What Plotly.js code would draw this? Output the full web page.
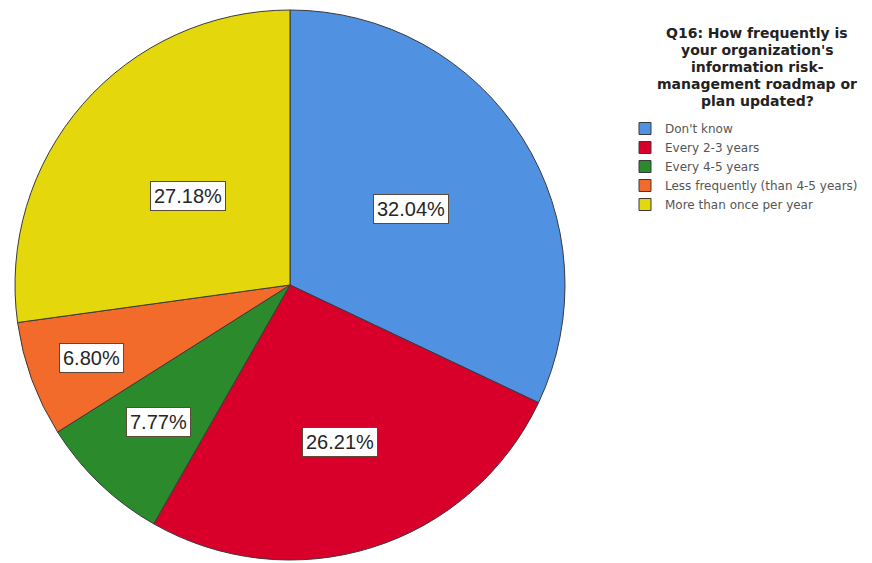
<!DOCTYPE html>
<html>
<head>
<meta charset="utf-8">
<script src="https://cdn.plot.ly/plotly-3.0.1.min.js"></script>
<style>html,body{margin:0;padding:0;background:#fff;}#chart{width:872px;height:563px;}</style>
</head>
<body>
<div id="chart"></div>
<script>
var categories = ["Don't know", "Every 2-3 years", "Every 4-5 years", "Less frequently (than 4-5 years)", "More than once per year"];
var percentages = [32.04, 26.21, 7.77, 6.80, 27.18];
var sliceColors = ["#5191e2", "#d8002b", "#2b8a2c", "#f26b2b", "#e4d70c"];
var legendTitleLines = ["Q16: How frequently is", "your organization's", "information risk-", "management roadmap or", "plan updated?"];

var W = 872, H = 563;
var cx = 290, cy = 285, R = 275;
var labelRadius = [0.52, 0.60, 0.69, 0.77, 0.49];

var total = percentages.reduce(function(a,b){return a+b;},0);
var annotations = [];
var cum = 0;
for (var i = 0; i < percentages.length; i++) {
  var mid = (cum + percentages[i]/2) / total * 2 * Math.PI;
  cum += percentages[i];
  var px = cx + R*labelRadius[i]*Math.sin(mid);
  var py = cy - R*labelRadius[i]*Math.cos(mid);
  annotations.push({
    xref: 'paper', yref: 'paper', x: px/W, y: 1 - py/H,
    xanchor: 'center', yanchor: 'middle', showarrow: false,
    text: percentages[i].toFixed(2) + '%',
    font: {family: 'Arial, Liberation Sans, sans-serif', size: 20, color: '#262626'},
    bgcolor: '#ffffff', bordercolor: '#5a4a3a', borderwidth: 1, borderpad: 3
  });
}
// legend title, one centred line each
var titleX = 757, titleY0 = 33, titleStep = 17;
legendTitleLines.forEach(function(line, k) {
  annotations.push({
    xref: 'paper', yref: 'paper', x: titleX/W, y: 1 - (titleY0 + k*titleStep)/H,
    xanchor: 'center', yanchor: 'middle', showarrow: false,
    text: '<b>' + line + '</b>',
    font: {family: 'DejaVu Sans, sans-serif', size: 14, color: '#222'}
  });
});

var data = [{
  type: 'pie',
  labels: categories,
  values: percentages,
  sort: false,
  direction: 'clockwise',
  rotation: 0,
  textinfo: 'none',
  hoverinfo: 'label+percent',
  marker: {colors: sliceColors, line: {color: '#3a3a3a', width: 1}},
  domain: {x: [(cx-R)/W, (cx+R)/W], y: [1-(cy+R)/H, 1-(cy-R)/H]}
}];

var layout = {
  width: W, height: H,
  margin: {l:0, r:0, t:0, b:0},
  paper_bgcolor: '#ffffff',
  showlegend: true,
  legend: {
    x: 625/W, xanchor: 'left', y: 1 - 114/H, yanchor: 'top',
    font: {family: 'DejaVu Sans, sans-serif', size: 12, color: '#555'},
    traceorder: 'normal',
    bgcolor: 'rgba(0,0,0,0)'
  },
  annotations: annotations
};

Plotly.newPlot('chart', data, layout, {staticPlot: true});
</script>
</body>
</html>
